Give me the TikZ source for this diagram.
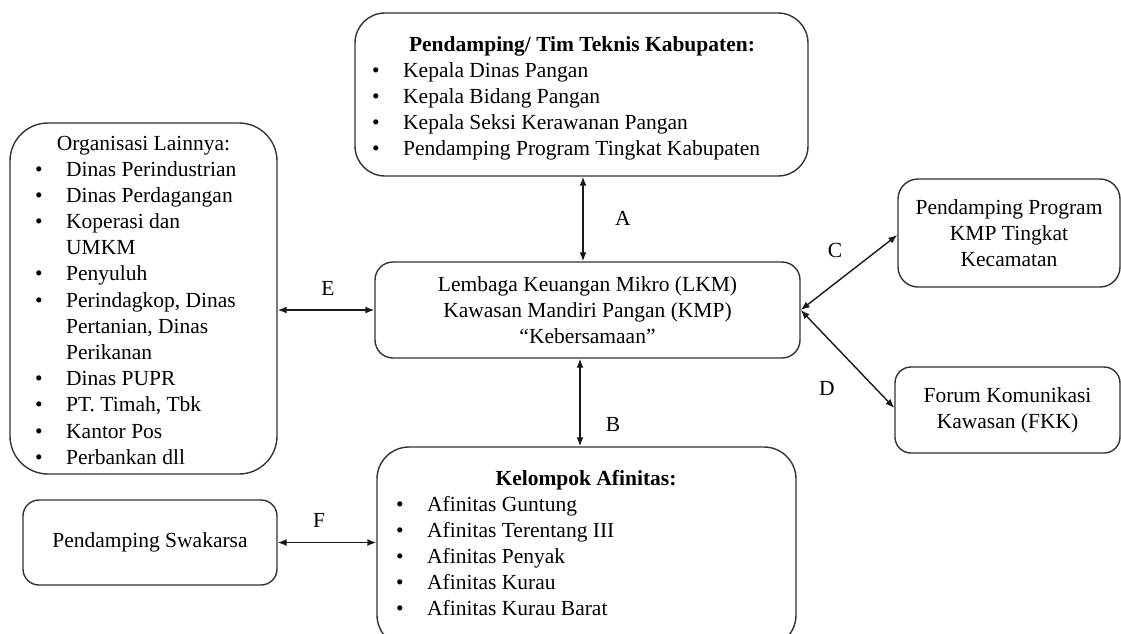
\documentclass[tikz,border=0pt]{standalone}
\usepackage{fontspec}
\setmainfont{Liberation Serif}
\usetikzlibrary{arrows.meta,calc}
\newcommand\bitem[1]{\makebox[31pt][l]{•}#1}
\newcommand\bcont[1]{\hspace*{31pt}#1}
\begin{document}
\begin{tikzpicture}[x=1pt,y=-1pt,
  box/.style={draw=black!80, line width=1.4pt, rounded corners=#1, inner sep=0pt},
  box/.default=18pt,
  txt/.style={font=\fontsize{21.5}{26.2}\selectfont, inner sep=0pt, text=black},
  link/.style={line width=1.4pt, draw=black!90, {Latex[length=9pt,width=7pt]}-{Latex[length=9pt,width=7pt]}}]
\useasboundingbox (0,0) rectangle (1121,633);

% boxes
\node[box=30pt, minimum width=453pt, minimum height=163pt] (top) at (581.5,94.5) {};
\node[box=38pt, minimum width=267pt, minimum height=351pt] (org) at (143.5,298.5) {};
\node[box=18pt, minimum width=425pt, minimum height=96pt, txt, align=center] (lkm) at (587.5,310)
  {Lembaga Keuangan Mikro (LKM)\\Kawasan Mandiri Pangan (KMP)\\“Kebersamaan”};
\node[box=20pt, minimum width=222pt, minimum height=108pt, txt, align=center] (kmp) at (1009,233)
  {Pendamping Program\\KMP Tingkat\\Kecamatan};
\node[box=16pt, minimum width=225pt, minimum height=86pt, txt, align=center] (fkk) at (1007.5,410)
  {Forum Komunikasi\\Kawasan (FKK)};
\node[box=16pt, minimum width=254pt, minimum height=85pt, txt] (swk) at (150,542.5)
  {Pendamping Swakarsa};
\node[box=32pt, minimum width=419pt, minimum height=200pt] (afin) at (586.5,547) {};

% texts of list boxes
\node[txt, anchor=base] (toptitle) at (582,51) {\bfseries Pendamping/ Tim Teknis Kabupaten:};
\node[txt, anchor=base west] (toplist) at (372,77) {\begin{tabular}[t]{@{}l@{}}
  \bitem{Kepala Dinas Pangan}\\
  \bitem{Kepala Bidang Pangan}\\
  \bitem{Kepala Seksi Kerawanan Pangan}\\
  \bitem{Pendamping Program Tingkat Kabupaten}
\end{tabular}};

\node[txt, anchor=base] (orgtitle) at (143.5,150) {Organisasi Lainnya:};
\node[txt, anchor=base west] (orglist) at (35,176) {\begin{tabular}[t]{@{}l@{}}
  \bitem{Dinas Perindustrian}\\
  \bitem{Dinas Perdagangan}\\
  \bitem{Koperasi dan}\\
  \bcont{UMKM}\\
  \bitem{Penyuluh}\\
  \bitem{Perindagkop, Dinas}\\
  \bcont{Pertanian, Dinas}\\
  \bcont{Perikanan}\\
  \bitem{Dinas PUPR}\\
  \bitem{PT. Timah, Tbk}\\
  \bitem{Kantor Pos}\\
  \bitem{Perbankan dll}
\end{tabular}};

\node[txt, anchor=base] (afintitle) at (586,485) {\bfseries Kelompok Afinitas:};
\node[txt, anchor=base west] (afinlist) at (396,511) {\begin{tabular}[t]{@{}l@{}}
  \bitem{Afinitas Guntung}\\
  \bitem{Afinitas Terentang III}\\
  \bitem{Afinitas Penyak}\\
  \bitem{Afinitas Kurau}\\
  \bitem{Afinitas Kurau Barat}
\end{tabular}};

% connectors
\draw[link] ([xshift=1.5pt]top.south) -- ([xshift=-4.5pt]lkm.north);
\draw[link] ([xshift=-7.5pt]lkm.south) -- ([xshift=-6.5pt]afin.north);
\draw[link] (lkm.east) -- ([yshift=-2pt]kmp.west);
\draw[link] (lkm.east) -- ([yshift=2pt]fkk.west);
\draw[link] (org.east |- lkm.west) -- (lkm.west);
\draw[link] (swk.east) -- (afin.west |- swk.east);

% labels
\node[txt] (la) at (623,218) {A};
\node[txt] (lb) at (613,424) {B};
\node[txt] (lc) at (835,250) {C};
\node[txt] (ld) at (827,388) {D};
\node[txt] (le) at (328,288) {E};
\node[txt] (lf) at (319,520) {F};
\end{tikzpicture}
\end{document}
